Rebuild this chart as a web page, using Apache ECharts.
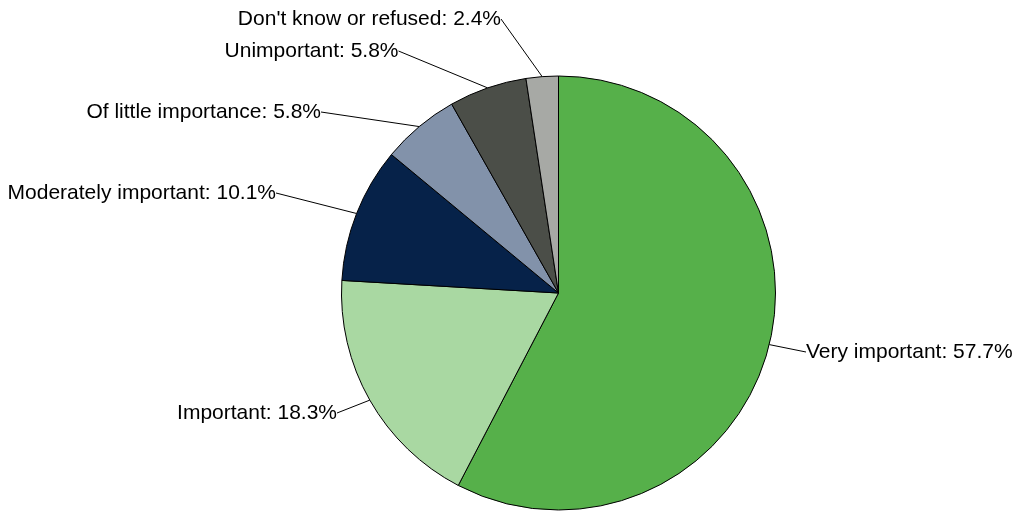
<!DOCTYPE html>
<html><head><meta charset="utf-8">
<script src="https://cdn.jsdelivr.net/npm/echarts@6/dist/echarts.min.js"></script>
<style>html,body{margin:0;padding:0;background:#fff}#c{width:1018px;height:513px}</style>
</head><body><div id="c"></div>
<script>
const categories = ["Very important", "Important", "Moderately important", "Of little importance", "Unimportant", "Don't know or refused"];
const values = [57.7, 18.3, 10.1, 5.8, 5.8, 2.4];
const colors = ["#56b04a", "#a9d8a2", "#062249", "#8292aa", "#4b4e48", "#a7a9a5"];
// label anchor positions (layout only)
const labelPos = [
  {x: 803, y: 352, align: 'left'},
  {x: 340, y: 413, align: 'right'},
  {x: 279, y: 193, align: 'right'},
  {x: 324, y: 112, align: 'right'},
  {x: 401.5, y: 51, align: 'right'},
  {x: 504, y: 19, align: 'right'}
];
const chart = echarts.init(document.getElementById('c'), null, {renderer: 'canvas'});
chart.setOption({
  animation: false,
  series: [{
    type: 'pie',
    center: [558.5, 293],
    radius: 217,
    startAngle: 90,
    clockwise: true,
    avoidLabelOverlap: false,
    data: categories.map((n, i) => ({name: n, value: values[i], itemStyle: {color: colors[i]}})),
    itemStyle: {borderColor: '#000', borderWidth: 1},
    label: {
      show: true,
      formatter: p => p.name + ': ' + p.value.toFixed(1) + '%',
      fontFamily: 'Liberation Sans, Arial, sans-serif',
      fontSize: 21,
      color: '#000',
      padding: [0, 3, 0, 3]
    },
    labelLine: {show: true, length: 20, length2: 0, lineStyle: {color: '#000', width: 1}, smooth: false},
    labelLayout: function (params) {
      const p = labelPos[params.dataIndex];
      return {x: p.x, y: p.y, align: p.align, verticalAlign: 'middle'};
    },
    emphasis: {disabled: true}
  }]
});
</script></body></html>
